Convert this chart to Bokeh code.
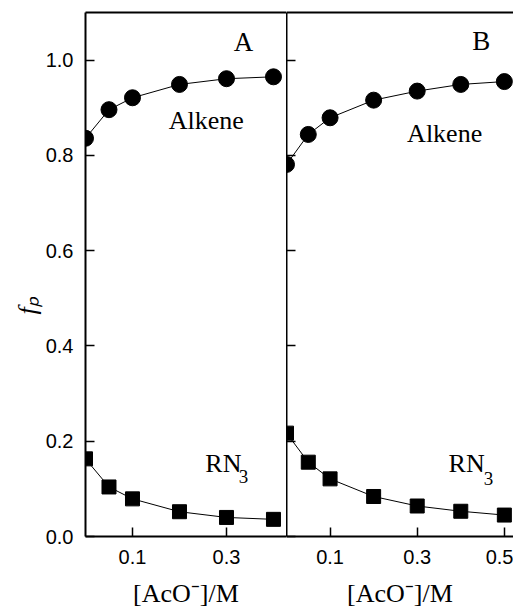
from bokeh.plotting import figure
from bokeh.layouts import row
from bokeh.models import Range1d, FixedTicker, LinearAxis, Label, PrintfTickFormatter, Title
from bokeh.embed import file_html
from bokeh.resources import INLINE

# ---- data ----
xA = [0.0, 0.05, 0.1, 0.2, 0.3, 0.4]
alkeneA = [0.836, 0.896, 0.921, 0.949, 0.961, 0.965]
rn3A = [0.163, 0.104, 0.079, 0.052, 0.040, 0.036]

xB = [0.0, 0.05, 0.1, 0.2, 0.3, 0.4, 0.5]
alkeneB = [0.781, 0.844, 0.879, 0.916, 0.935, 0.949, 0.955]
rn3B = [0.217, 0.156, 0.121, 0.084, 0.064, 0.053, 0.045]

yticks = [0.0, 0.2, 0.4, 0.6, 0.8, 1.0]
xticksA = [0.1, 0.3]
xticksB = [0.1, 0.3, 0.5]

SERIF = "Liberation Serif"
SANS = "Liberation Sans"
H = 610
XLABEL = "[AcO\u207b]/M"
YLABEL = "f\u209a"


def base(width, xmax, left, xticks, show_ylabels):
    p = figure(width=width, height=H, x_range=Range1d(0, xmax), y_range=Range1d(0, 1.1),
               output_backend="svg", toolbar_location=None,
               min_border_left=left, min_border_right=0, min_border_top=12, min_border_bottom=74)
    p.xgrid.visible = False
    p.ygrid.visible = False
    p.outline_line_color = None
    p.background_fill_color = "white"
    p.border_fill_color = "white"
    for ax in (p.xaxis, p.yaxis):
        ax.axis_line_color = "black"
        ax.axis_line_width = 2
        ax.major_tick_line_color = "black"
        ax.major_tick_line_width = 1.5
        ax.major_tick_in = 9
        ax.major_tick_out = 0
        ax.minor_tick_line_color = None
        ax.major_label_text_font = SANS
        ax.major_label_text_font_size = "20px"
        ax.major_label_text_color = "black"
        ax.formatter = PrintfTickFormatter(format="%.1f")
        ax.axis_label_text_font = SERIF
        ax.axis_label_text_font_size = "26px"
        ax.axis_label_text_color = "black"
    p.xaxis.ticker = FixedTicker(ticks=xticks)
    p.xaxis.major_label_standoff = 13
    p.xaxis.axis_label = XLABEL
    p.xaxis.axis_label_text_font_style = "normal"
    p.xaxis.axis_label_standoff = 12
    p.yaxis.ticker = FixedTicker(ticks=yticks)
    p.yaxis.major_label_standoff = 12
    if show_ylabels:
        t = Title(text=YLABEL, text_font=SERIF, text_font_size="26px", text_font_style="italic",
                  text_color="black", align="left", offset=222, vertical_align="middle",
                  standoff=0)
        p.add_layout(t, "left")
    else:
        p.yaxis.major_label_text_font_size = "0px"
        p.yaxis.major_label_text_alpha = 0
        p.yaxis.major_label_standoff = 0
    top = LinearAxis(ticker=FixedTicker(ticks=[]), axis_line_width=2, axis_line_color="black",
                     major_label_text_font_size="0px", major_label_standoff=0,
                     major_tick_in=0, major_tick_out=0, minor_tick_in=0, minor_tick_out=0)
    p.add_layout(top, "above")
    return p


def series(p, x, a, r):
    p.line(x, a, line_color="black", line_width=1)
    p.line(x, r, line_color="black", line_width=1)
    p.scatter(x, a, marker="circle", size=16, fill_color="black", line_color="black")
    p.scatter(x, r, marker="square", size=14, fill_color="black", line_color="black")


def lab(p, x, y, text, size, align="center"):
    p.add_layout(Label(x=x, y=y, text=text, text_font=SERIF, text_font_size=size,
                       text_align=align, text_baseline="middle", text_color="black"))


pA = base(286, 0.4277, 85, xticksA, True)
series(pA, xA, alkeneA, rn3A)
lab(pA, 0.336, 1.038, "A", "27px")
lab(pA, 0.257, 0.874, "Alkene", "26px")
lab(pA, 0.255, 0.153, "RN", "26px", align="left")
lab(pA, 0.326, 0.126, "3", "19px", align="left")

pB = base(227, 0.521, 0, xticksB, False)
series(pB, xB, alkeneB, rn3B)
lab(pB, 0.447, 1.040, "B", "27px")
lab(pB, 0.363, 0.847, "Alkene", "26px")
lab(pB, 0.372, 0.153, "RN", "26px", align="left")
lab(pB, 0.453, 0.122, "3", "19px", align="left")

layout = row(pA, pB, spacing=0)
open("out.html", "w").write(file_html(layout, INLINE))
